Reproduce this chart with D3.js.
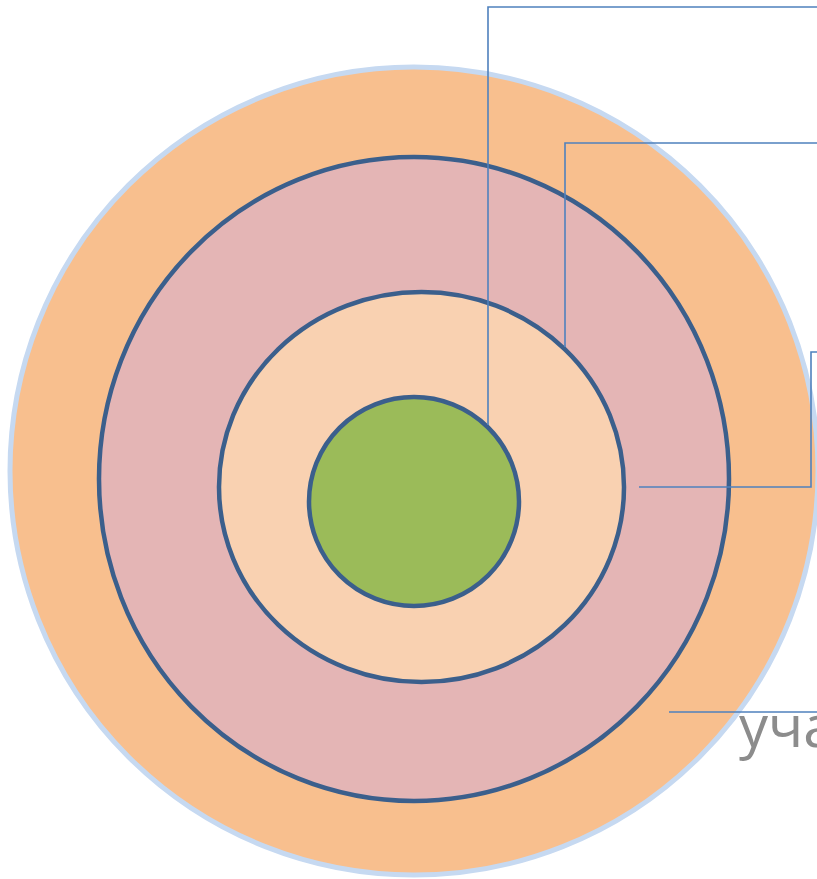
<!DOCTYPE html>
<html>
<head>
    <meta charset="utf-8">
    <title>Круги</title>
    <script src="https://cdn.jsdelivr.net/npm/d3@7"></script>
    <style>
        body { margin: 0; background: #fff; }
        svg { display: block; }
    </style>
</head>
<body>
<script type="text/javascript">
// Layers, from outer to inner
var layerNames = ['outer', 'second', 'third', 'core'];
var layerFill = ['#f8bf8e', '#e4b5b5', '#f9d1b1', '#9bbb59'];
var layerStroke = ['#c6d9f1', '#3b5f8c', '#3b5f8c', '#3b5f8c'];
var layerStrokeW = [5, 4.5, 4.5, 4.5];
// ellipse geometry in px
var layerCx = [414, 414, 421.5, 414];
var layerCy = [471, 479, 487, 501.5];
var layerRx = [404, 315, 202.5, 105];
var layerRy = [404, 322, 195, 104.5];

// callout connectors (points of each polyline)
var callouts = [
    [[488, 425], [488, 7], [830, 7]],
    [[565, 347], [565, 143], [830, 143]],
    [[639, 487], [811, 487], [811, 352], [830, 352]],
    [[669, 712], [830, 712]]
];
var labelText = 'участники';

var width = 817,
    height = 879;

var svg = d3.select('body').append('svg')
    .attr('width', width)
    .attr('height', height);

svg.selectAll('.layer')
    .data(layerNames)
    .enter().append('ellipse')
    .attr('class', 'layer')
    .attr('cx', function(d, i) { return layerCx[i]; })
    .attr('cy', function(d, i) { return layerCy[i]; })
    .attr('rx', function(d, i) { return layerRx[i]; })
    .attr('ry', function(d, i) { return layerRy[i]; })
    .attr('fill', function(d, i) { return layerFill[i]; })
    .attr('stroke', function(d, i) { return layerStroke[i]; })
    .attr('stroke-width', function(d, i) { return layerStrokeW[i]; });

var line = d3.line();
svg.selectAll('.callout')
    .data(callouts)
    .enter().append('path')
    .attr('class', 'callout')
    .attr('d', line)
    .attr('fill', 'none')
    .attr('stroke', '#4f81bd')
    .attr('stroke-width', 1.6);

// label runs off the right edge, as in the source slide
svg.append('text')
    .attr('x', 739)
    .attr('y', 747)
    .attr('fill', '#8c8c8c')
    .style('font-family', '"Open Sans", sans-serif')
    .style('font-size', '58px')
    .text(labelText);
</script>
</body>
</html>
